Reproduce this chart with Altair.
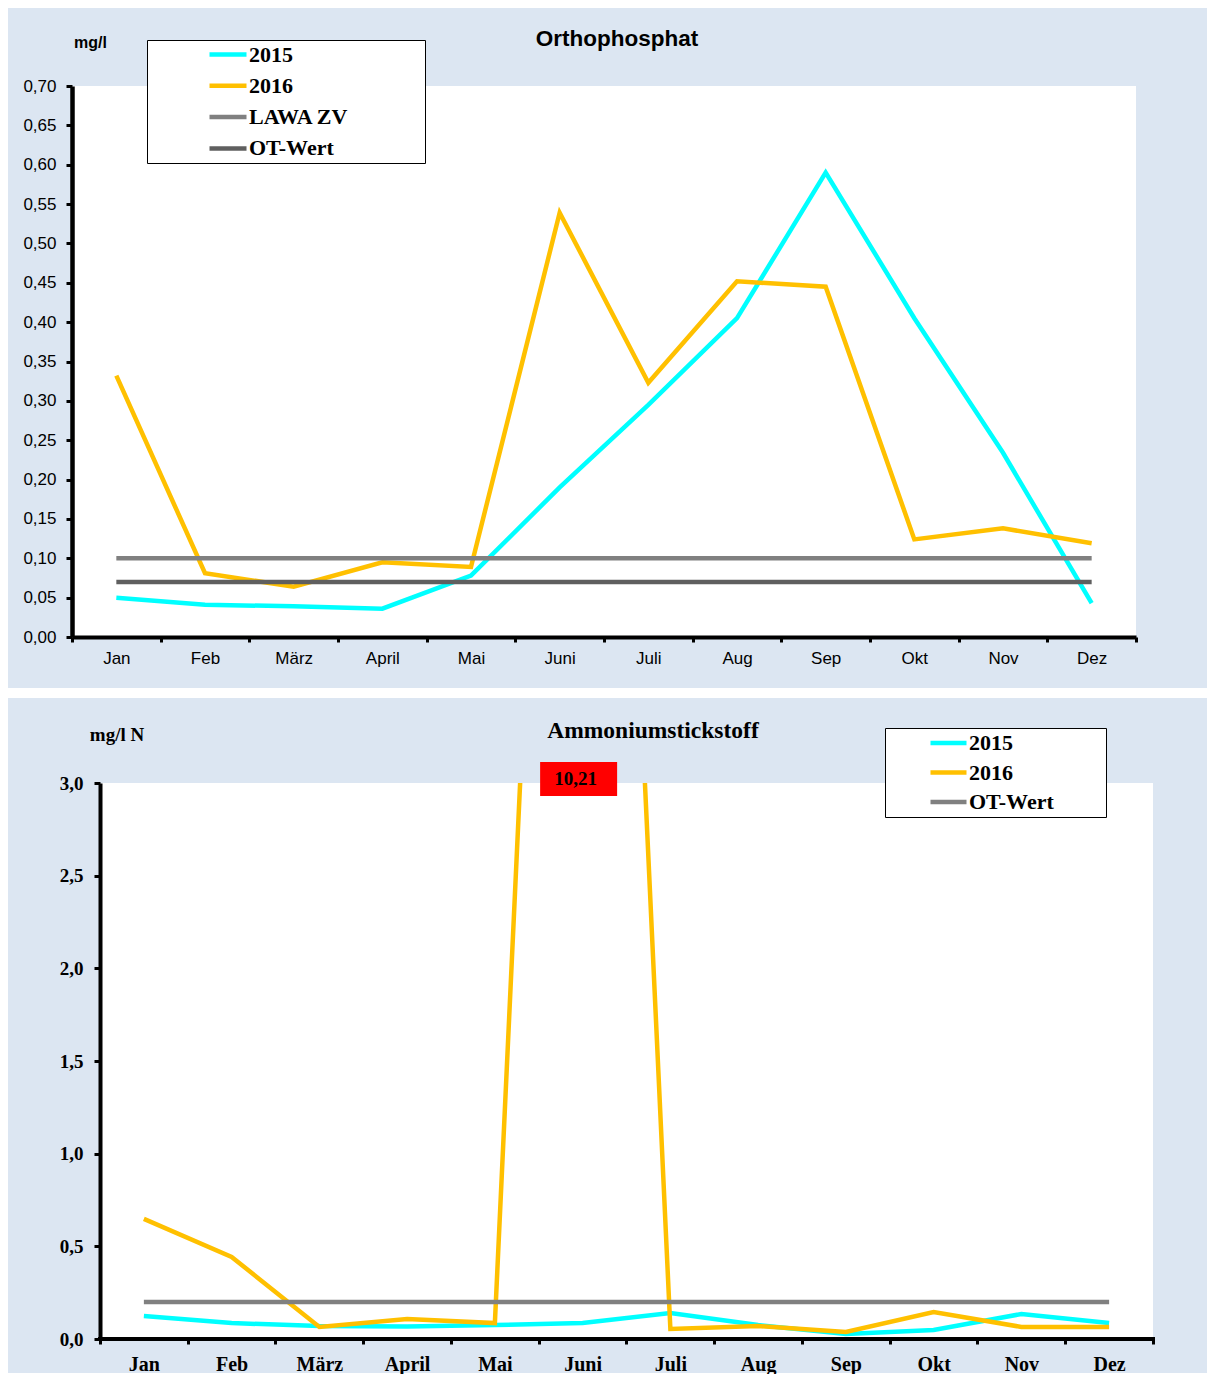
import altair as alt
import pandas as pd

# ---------------- data ----------------
months = ["Jan", "Feb", "März", "April", "Mai", "Juni", "Juli", "Aug", "Sep", "Okt", "Nov", "Dez"]

# Orthophosphat (mg/l)
po4_2015 = [0.050, 0.041, 0.039, 0.036, 0.078, 0.190, 0.295, 0.405, 0.590, 0.405, 0.234, 0.043]
po4_2016 = [0.332, 0.081, 0.064, 0.095, 0.089, 0.539, 0.323, 0.452, 0.445, 0.124, 0.138, 0.119]
po4_lawa = [0.10] * 12
po4_ot = [0.07] * 12
po4_ticks = [0.0, 0.05, 0.10, 0.15, 0.20, 0.25, 0.30, 0.35, 0.40, 0.45, 0.50, 0.55, 0.60, 0.65, 0.70]

# Ammoniumstickstoff (mg/l N)
nh4_2015 = [0.124, 0.086, 0.070, 0.068, 0.075, 0.086, 0.140, 0.075, 0.027, 0.049, 0.135, 0.086]
nh4_2016 = [0.648, 0.443, 0.065, 0.108, 0.086, 10.21, 0.054, 0.070, 0.038, 0.146, 0.065, 0.065]
nh4_ot = [0.20] * 12
nh4_ticks = [0.0, 0.5, 1.0, 1.5, 2.0, 2.5, 3.0]

top_series = ["2015", "2016", "LAWA ZV", "OT-Wert"]
top_colors = ["#00ffff", "#ffc000", "#808080", "#5f5f5f"]
top_widths = [4.5, 4.5, 4.5, 3.5]

bot_series = ["2015", "2016", "OT-Wert"]
bot_colors = ["#00ffff", "#ffc000", "#808080"]
bot_widths = [4.5, 4.5, 4.5]


def to_long(names, values):
    rows = []
    for name, vals in zip(names, values):
        for m, v in zip(months, vals):
            rows.append({"month": m, "series": name, "value": v})
    return pd.DataFrame(rows)


top_df = to_long(top_series, [po4_2015, po4_2016, po4_lawa, po4_ot])
bot_df = to_long(bot_series, [nh4_2015, nh4_2016, nh4_ot])
one = pd.DataFrame({"k": [0]})

BG = "#dce6f2"

# ---------------- top chart ----------------
W1, H1 = 1064, 551

x1 = alt.X(
    "month:N", sort=months, title=None,
    scale=alt.Scale(type="band", domain=months, paddingInner=0, paddingOuter=0),
    axis=alt.Axis(labelFont="Liberation Sans", labelFontSize=17, labelColor="black", labelAngle=0,
                  labelPadding=8, labelOverlap=False, tickBand="extent", tickSize=5, tickWidth=3,
                  tickColor="black", domainColor="black", domainWidth=4, grid=False, zindex=1),
)
y1 = alt.Y(
    "value:Q",
    scale=alt.Scale(domain=[0, 0.7], nice=False),
    axis=alt.Axis(values=po4_ticks, labelExpr="replace(format(datum.value, '.2f'), '.', ',')",
                  labelFont="Liberation Sans", labelFontSize=17, labelColor="black", labelPadding=10,
                  tickSize=6, tickWidth=3, tickColor="black", domainColor="black", domainWidth=4.5,
                  grid=False, zindex=1, labelOverlap=False,
                  title="mg/l", titleAngle=0, titleX=18, titleY=-44, titleAlign="center",
                  titleBaseline="middle", titleFont="Liberation Sans", titleFontSize=16,
                  titleFontWeight="bold", titleColor="black"),
)

top_bg = alt.Chart(one).mark_rect(color=BG).encode(
    x=alt.value(-64), x2=alt.value(1135), y=alt.value(-78), y2=alt.value(602))
top_gap = alt.Chart(one).mark_rect(color="white").encode(
    x=alt.value(-64), x2=alt.value(1135), y=alt.value(602), y2=alt.value(612))
top_plot = alt.Chart(one).mark_rect(color="white").encode(
    x=alt.value(0), x2=alt.value(W1), y=alt.value(0), y2=alt.value(H1))

top_lines = alt.Chart(top_df).mark_line().encode(
    x=x1, y=y1,
    color=alt.Color("series:N", scale=alt.Scale(domain=top_series, range=top_colors),
                    legend=alt.Legend(title=".", titleOrient="right", titlePadding=72,
                                      titleColor="white", titleFontSize=2,
                                      orient="none", legendX=75, legendY=-46,
                                      direction="vertical", fillColor="white", strokeColor="black",
                                      padding=3.5, symbolType="stroke", symbolSize=1369,
                                      symbolStrokeWidth=4, clipHeight=22, rowPadding=9.3,
                                      symbolOffset=56.5, labelOffset=0,
                                      labelFont="Liberation Serif", labelFontSize=22,
                                      labelFontWeight="bold", labelColor="black", labelLimit=500)),
    strokeWidth=alt.StrokeWidth("series:N", scale=alt.Scale(domain=top_series, range=top_widths),
                                legend=None),
)

top_title = alt.Chart(pd.DataFrame({"t": ["Orthophosphat"]})).mark_text(
    font="Liberation Sans", fontSize=22.5, fontWeight="bold", color="black",
    align="center", baseline="middle").encode(text="t:N", x=alt.value(545), y=alt.value(-47))

top_chart = alt.layer(top_bg, top_gap, top_plot, top_lines, top_title).properties(width=W1, height=H1)

# ---------------- bottom chart ----------------
W2, H2 = 1081, 556

x2 = alt.X(
    "month:N", sort=months, title=None,
    scale=alt.Scale(type="band", domain=months, paddingInner=0, paddingOuter=0.15954, align=1),
    axis=alt.Axis(domain=False, labelFont="Liberation Serif", labelFontWeight="bold", labelFontSize=20,
                  labelColor="black", labelAngle=0, labelPadding=10, labelOverlap=False,
                  tickBand="extent", tickSize=5, tickWidth=3, tickColor="black", grid=False, zindex=1),
)
y2 = alt.Y(
    "value:Q",
    scale=alt.Scale(domain=[0, 3], nice=False),
    axis=alt.Axis(values=nh4_ticks, labelExpr="replace(format(datum.value, '.1f'), '.', ',')",
                  labelFont="Liberation Serif", labelFontWeight="bold", labelFontSize=19,
                  labelColor="black", labelPadding=11, offset=-28,
                  tickSize=6, tickWidth=3, tickColor="black", domainColor="black", domainWidth=4,
                  grid=False, zindex=1, labelOverlap=False,
                  title="mg/l N", titleAngle=0, titleX=16.5, titleY=-49, titleAlign="center",
                  titleBaseline="middle", titleFont="Liberation Serif", titleFontSize=19,
                  titleFontWeight="bold", titleColor="black"),
)

bot_bg = alt.Chart(one).mark_rect(color=BG).encode(
    x=alt.value(-64), x2=alt.value(1135), y=alt.value(-85), y2=alt.value(590))
bot_plot = alt.Chart(one).mark_rect(color="white").encode(
    x=alt.value(28), x2=alt.value(W2), y=alt.value(0), y2=alt.value(H2))
bot_xline = alt.Chart(one).mark_rule(color="black", strokeWidth=4).encode(
    x=alt.value(26), x2=alt.value(1083), y=alt.value(H2))

bot_lines = alt.Chart(bot_df).mark_line(clip=True).encode(
    x=x2, y=y2,
    color=alt.Color("series:N", scale=alt.Scale(domain=bot_series, range=bot_colors),
                    legend=alt.Legend(title=".", titleOrient="right", titlePadding=47,
                                      titleColor="white", titleFontSize=2,
                                      orient="none", legendX=813, legendY=-55,
                                      direction="vertical", fillColor="white", strokeColor="black",
                                      padding=4, symbolType="stroke", symbolSize=1296,
                                      symbolStrokeWidth=4, clipHeight=22, rowPadding=7.5,
                                      symbolOffset=39, labelOffset=0,
                                      labelFont="Liberation Serif", labelFontSize=22,
                                      labelFontWeight="bold", labelColor="black", labelLimit=500)),
    strokeWidth=alt.StrokeWidth("series:N", scale=alt.Scale(domain=bot_series, range=bot_widths),
                                legend=None),
)

over = alt.Chart(bot_df).transform_filter("datum.value > 3").transform_calculate(
    lbl="replace(format(datum.value, '.2f'), '.', ',')")
bot_lab_rect = over.mark_bar(color="#ff0000", width=77, xOffset=-4).encode(
    x=x2, y=alt.value(-21), y2=alt.value(13))
bot_lab_text = over.mark_text(font="Liberation Serif", fontWeight="bold", fontSize=19, color="black",
                              dx=-7, baseline="middle", align="center").encode(
    x=x2, y=alt.value(-4), text="lbl:N")

bot_title = alt.Chart(pd.DataFrame({"t": ["Ammoniumstickstoff"]})).mark_text(
    font="Liberation Serif", fontSize=23.5, fontWeight="bold", color="black",
    align="center", baseline="middle").encode(text="t:N", x=alt.value(581), y=alt.value(-52))

bot_chart = alt.layer(bot_bg, bot_plot, bot_xline, bot_lines, bot_lab_rect, bot_lab_text,
                      bot_title).properties(width=W2, height=H2)

chart = alt.vconcat(top_chart, bot_chart, spacing=0).resolve_scale(
    x="independent", y="independent", color="independent", strokeWidth="independent"
).properties(padding=0, background="white").configure_view(stroke=None)

chart.save("out.html", embed_options={"renderer": "svg", "actions": False})
